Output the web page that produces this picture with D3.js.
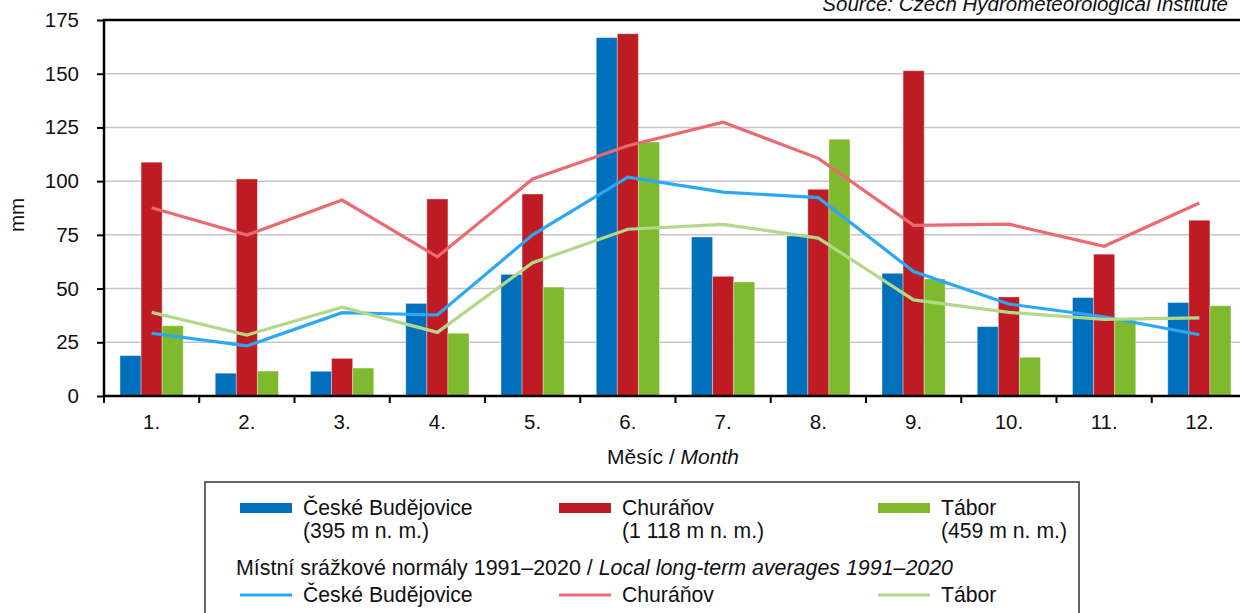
<!DOCTYPE html>
<html>
<head>
<meta charset="utf-8">
<script src="https://cdn.jsdelivr.net/npm/d3@7"></script>
<style>
    html, body { margin: 0; padding: 0; background: #fff; overflow: hidden; }
    #chart { width: 1240px; height: 613px; }
    text { font-family: "Liberation Sans", Arial, sans-serif; fill: #111; }
</style>
</head>
<body>
<div id="chart"></div>
<script>
//Datos
const months = ['1.', '2.', '3.', '4.', '5.', '6.', '7.', '8.', '9.', '10.', '11.', '12.'];
const budejoviceBars = [18.8, 10.6, 11.5, 43.1, 56.6, 166.8, 74.0, 74.5, 57.1, 32.3, 45.8, 43.5];
const churanovBars = [108.8, 101.0, 17.5, 91.7, 94.0, 168.6, 55.7, 96.2, 151.4, 46.1, 66.0, 81.8];
const taborBars = [32.7, 11.6, 13.0, 29.2, 50.7, 118.2, 53.1, 119.5, 54.5, 18.0, 35.4, 42.0];
const budejoviceNormal = [29.2, 23.3, 38.8, 37.7, 75.0, 101.9, 94.9, 92.3, 57.9, 42.8, 36.9, 28.5];
const churanovNormal = [87.6, 74.9, 91.2, 64.8, 101.0, 116.5, 127.4, 110.6, 79.4, 80.0, 69.7, 89.8];
const taborNormal = [38.9, 28.4, 41.3, 29.6, 62.0, 77.6, 79.9, 73.5, 44.7, 38.9, 35.7, 36.4];
const yTicks = [0, 25, 50, 75, 100, 125, 150, 175];
const stations = ['České Budějovice', 'Churáňov', 'Tábor'];
const altitudes = ['(395 m n. m.)', '(1 118 m n. m.)', '(459 m n. m.)'];

//Colores
const BAR_COLORS = ['#0070BD', '#BE1B24', '#7FBA2E'];
const LINE_COLORS = ['#2AA8F6', '#EB6A6F', '#B3D88A'];

let margin = {top: 20, right: -7, bottom: 217, left: 104},
    width = 1240 - margin.left - margin.right,
    height = 613 - margin.top - margin.bottom;

let svgRoot = d3.select('#chart')
    .append('svg')
        .attr('width', 1240)
        .attr('height', 613);

let svg = svgRoot.append('g')
    .attr('transform', 'translate(' + margin.left + ',' + margin.top + ')');

let x = d3.scaleBand()
    .domain(months)
    .range([0, width])
    .padding(0);

let xSubgroup = d3.scaleBand()
    .domain(stations)
    .range([0, x.bandwidth()])
    .paddingInner(0)
    .paddingOuter(0.76);

let y = d3.scaleLinear()
    .domain([0, 175])
    .range([height, 0]);

//Rejilla
svg.append('g')
    .selectAll('line')
    .data(yTicks.filter(d => d > 0 && d < 175))
    .enter()
    .append('line')
    .attr('x1', 0)
    .attr('x2', width)
    .attr('y1', d => y(d))
    .attr('y2', d => y(d))
    .attr('stroke', '#c6c6c6')
    .attr('stroke-width', 1.5);

//Barras
let barSeries = [budejoviceBars, churanovBars, taborBars];

svg.append('g')
    .selectAll('g')
    .data(months)
    .enter()
    .append('g')
    .attr('transform', d => 'translate(' + x(d) + ',0)')
    .selectAll('rect')
    .data((d, i) => stations.map((s, k) => ({key: s, idx: k, value: barSeries[k][i]})))
    .enter()
    .append('rect')
    .attr('x', d => xSubgroup(d.key))
    .attr('width', xSubgroup.bandwidth())
    .attr('y', d => y(d.value))
    .attr('height', d => height - y(d.value))
    .attr('fill', d => BAR_COLORS[d.idx])
    .attr('stroke', 'rgba(255,255,255,0.35)')
    .attr('stroke-width', 1);

//Lineas de normales
let lineSeries = [budejoviceNormal, churanovNormal, taborNormal];
let line = d3.line()
    .x((d, i) => x(months[i]) + x.bandwidth() / 2)
    .y(d => y(d));

lineSeries.forEach(function(serie, k) {
    svg.append('path')
        .datum(serie)
        .attr('d', line)
        .attr('fill', 'none')
        .attr('stroke', LINE_COLORS[k])
        .attr('stroke-width', 3.2)
        .attr('stroke-linejoin', 'miter');
});

//Ejes
let xAxis = svg.append('g')
    .attr('transform', 'translate(0,' + height + ')')
    .call(d3.axisBottom(x).tickSize(0).tickPadding(18));
xAxis.select('.domain').remove();
xAxis.selectAll('text').attr('font-size', '20.5px').attr('fill', '#111');

//Marcas entre meses
svg.append('g')
    .selectAll('line')
    .data(months)
    .enter()
    .append('line')
    .attr('x1', d => x(d))
    .attr('x2', d => x(d))
    .attr('y1', height)
    .attr('y2', height + 7)
    .attr('stroke', '#000')
    .attr('stroke-width', 2);

let yAxis = svg.append('g')
    .call(d3.axisLeft(y).tickValues(yTicks).tickSize(7).tickPadding(18));
yAxis.select('.domain').remove();
yAxis.selectAll('line').attr('stroke', '#000').attr('stroke-width', 2);
yAxis.selectAll('text').attr('font-size', '20.5px').attr('fill', '#111');

//Marco
svg.append('path')
    .attr('d', 'M' + (width + 10) + ',0H0V' + height + 'H' + (width + 10))
    .attr('fill', 'none')
    .attr('stroke', '#000')
    .attr('stroke-width', 2.5);

//Titulos
svgRoot.append('text')
    .attr('transform', 'translate(24,215) rotate(-90)')
    .attr('text-anchor', 'middle')
    .attr('font-size', '20.5px')
    .text('mm');

let xTitle = svgRoot.append('text')
    .attr('x', 673)
    .attr('y', 464)
    .attr('text-anchor', 'middle')
    .attr('font-size', '21px');
xTitle.append('tspan').text('Měsíc / ');
xTitle.append('tspan').attr('font-style', 'italic').text('Month');

svgRoot.append('text')
    .attr('x', 1228)
    .attr('y', 11)
    .attr('text-anchor', 'end')
    .attr('font-size', '20.5px')
    .attr('font-style', 'italic')
    .text('Source: Czech Hydrometeorological Institute');

//Leyenda
let legend = svgRoot.append('g');
legend.append('rect')
    .attr('x', 205)
    .attr('y', 482)
    .attr('width', 874)
    .attr('height', 150)
    .attr('fill', '#fff')
    .attr('stroke', '#333')
    .attr('stroke-width', 1.5);

let legendX = [240, 559, 878];

stations.forEach(function(s, k) {
    legend.append('rect')
        .attr('x', legendX[k])
        .attr('y', 503)
        .attr('width', 52)
        .attr('height', 10)
        .attr('fill', BAR_COLORS[k]);
    legend.append('text')
        .attr('x', legendX[k] + 63)
        .attr('y', 515)
        .attr('font-size', '21.2px')
        .text(s);
    legend.append('text')
        .attr('x', legendX[k] + 63)
        .attr('y', 538)
        .attr('font-size', '21.2px')
        .text(altitudes[k]);

    legend.append('line')
        .attr('x1', legendX[k])
        .attr('x2', legendX[k] + 52)
        .attr('y1', 595)
        .attr('y2', 595)
        .attr('stroke', LINE_COLORS[k])
        .attr('stroke-width', 3.2);
    legend.append('text')
        .attr('x', legendX[k] + 63)
        .attr('y', 602)
        .attr('font-size', '21.2px')
        .text(s);
});

let normText = legend.append('text')
    .attr('x', 236)
    .attr('y', 575)
    .attr('font-size', '21.4px');
normText.append('tspan').text('Místní srážkové normály 1991–2020 / ');
normText.append('tspan').attr('font-style', 'italic').text('Local long-term averages 1991–2020');
</script>
</body>
</html>
